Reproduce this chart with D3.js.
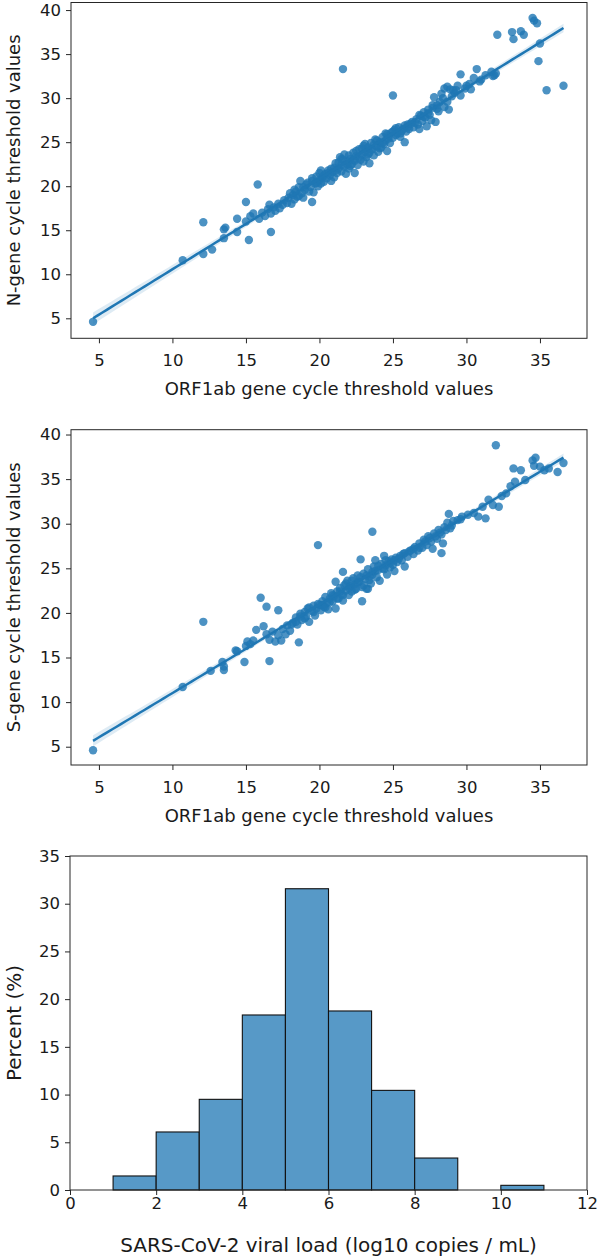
<!DOCTYPE html>
<html>
<head>
<meta charset="utf-8">
<script src="https://cdn.jsdelivr.net/npm/d3@7"></script>
<style>
  html, body { margin: 0; padding: 0; background: #fff; }
  svg { display: block; }
  text { font-family: "DejaVu Sans", sans-serif; fill: #1a1a1a; }
</style>
</head>
<body>
<svg id="chart" width="597" height="1260"></svg>
<script>
// ---------- DATA ----------
// Panel 1: ORF1ab Ct (x) vs N-gene Ct (y)
const nOrf = [4.6,10.7,12.1,12.1,12.7,13.5,13.5,13.6,14.4,14.4,15.0,15.2,15.0,15.3,15.5,15.8,15.9,16.1,16.3,16.5,16.6,16.7,16.7,16.9,17.0,17.2,17.3,17.5,17.6,17.8,17.9,18.1,18.2,18.3,18.4,18.5,18.6,18.7,18.8,18.9,19.0,19.1,19.3,19.4,19.5,19.5,19.6,19.7,19.8,19.9,20.0,20.0,20.1,20.2,20.3,20.4,20.5,20.6,20.7,20.8,20.9,21.0,21.0,21.1,21.2,21.3,21.4,21.5,21.5,21.6,21.6,21.7,21.8,21.9,22.0,22.0,22.1,22.2,22.3,22.4,22.4,22.5,22.6,22.7,22.8,22.9,23.0,23.0,23.1,23.2,23.3,23.4,23.4,23.5,23.6,23.7,23.8,23.9,24.0,24.1,24.2,24.3,24.4,24.5,24.6,24.6,24.7,24.8,24.9,25.0,25.0,25.1,25.2,25.3,25.4,25.5,25.6,25.8,25.8,25.9,26.0,26.1,26.3,26.4,26.6,26.7,26.8,26.9,27.0,27.1,27.2,27.3,27.4,27.5,27.6,27.7,27.8,27.9,28.0,28.1,28.2,28.3,28.5,28.5,28.7,28.8,28.9,29.0,29.1,29.2,29.4,29.6,29.6,29.9,30.2,30.5,30.7,31.0,31.3,31.7,31.8,31.9,32.0,32.1,33.1,33.2,33.7,33.9,34.5,34.6,34.8,34.9,35.0,35.45,36.6,
  18.0,18.3,18.6,18.9,19.2,19.5,19.8,20.1,20.3,20.6,20.8,21.1,21.3,21.5,21.7,21.9,22.1,22.3,22.5,22.7,22.9,23.1,23.3,23.5,23.7,23.9,24.1,24.3,24.5,24.7,25.0,25.2,25.5,25.7,26.0,26.2,26.5,26.8,27.1,27.4,27.7,28.0,28.4,28.7,29.3,30.0,30.3,30.9];
const nGene = [4.6,11.6,15.9,12.3,12.8,15.1,14.1,15.3,16.3,14.8,18.2,13.9,16.0,16.6,16.9,20.2,16.3,17.0,16.6,17.4,17.9,14.8,16.9,17.6,17.2,18.0,17.5,17.9,18.4,18.1,18.7,18.0,19.0,18.5,19.4,18.8,19.9,20.6,19.2,18.7,19.6,20.2,19.4,19.9,18.2,20.6,19.3,20.3,21.1,20.0,20.7,21.5,20.3,21.0,20.5,21.4,20.9,21.8,21.2,20.6,21.6,22.1,21.0,22.6,21.5,22.0,23.3,21.7,22.4,33.3,23.0,22.2,21.4,22.8,23.5,22.0,23.1,22.5,23.8,21.5,22.9,23.4,22.4,24.2,23.0,23.6,24.6,22.8,23.9,23.3,24.4,22.6,23.8,24.9,24.2,23.5,25.3,24.5,23.9,25.0,24.4,25.6,24.8,25.2,24.0,25.9,25.4,24.9,26.1,30.3,25.5,26.4,25.8,26.0,26.7,25.6,26.3,25.0,26.9,26.2,27.0,26.5,27.3,26.7,27.6,27.0,26.5,28.0,27.4,28.4,27.8,26.8,28.7,28.1,27.5,28.9,30.1,27.3,29.2,28.5,29.6,30.5,29.0,31.1,31.3,28.7,31.0,30.2,30.9,30.6,31.4,32.7,30.3,31.1,31.6,32.3,33.3,32.1,32.6,33.0,32.5,32.6,32.8,37.2,37.5,36.7,37.6,37.2,39.1,38.8,38.5,34.2,36.2,30.9,31.4,
  19.2,19.6,18.9,19.9,20.4,20.9,20.4,21.8,21.2,21.5,22.0,21.8,22.7,23.1,23.6,22.5,22.3,23.0,24.0,23.3,24.3,24.8,23.6,24.2,24.7,25.2,24.3,24.9,26.0,25.7,26.2,26.6,26.0,26.5,26.7,27.1,27.2,28.1,27.9,28.3,29.2,28.8,30.0,29.6,30.9,31.4,31.0,31.9];

// Panel 2: ORF1ab Ct (x) vs S-gene Ct (y)
const sOrf = [4.6,10.7,12.1,12.6,13.4,13.5,13.5,14.3,14.4,14.9,15.0,15.1,15.3,15.5,15.7,16.0,16.2,16.4,16.4,16.6,16.6,16.8,17.0,17.2,17.2,17.4,17.5,17.7,17.8,18.0,18.2,18.4,18.5,18.6,18.7,18.8,19.0,19.1,19.2,19.3,19.5,19.6,19.7,19.8,19.9,20.0,20.1,20.2,20.3,20.4,20.5,20.6,20.7,20.8,20.9,21.0,21.1,21.1,21.2,21.3,21.4,21.5,21.6,21.6,21.7,21.8,21.9,22.0,22.1,22.2,22.3,22.4,22.5,22.6,22.7,22.8,22.9,22.9,23.0,23.1,23.2,23.3,23.3,23.4,23.5,23.6,23.6,23.7,23.8,23.9,24.0,24.1,24.2,24.4,24.4,24.5,24.6,24.7,24.8,24.9,25.0,25.1,25.2,25.3,25.5,25.6,25.8,25.8,26.0,26.2,26.4,26.5,26.7,26.8,27.0,27.1,27.3,27.4,27.6,27.7,27.8,28.0,28.1,28.3,28.3,28.4,28.5,28.7,28.8,28.9,29.1,29.4,29.7,30.1,30.5,30.8,31.1,31.3,31.5,31.8,32.0,32.2,32.4,32.7,33.0,33.3,33.2,33.7,34.0,34.5,34.7,34.6,35.0,35.3,35.6,36.2,36.6,
  18.1,18.4,18.7,19.0,19.3,19.6,19.9,20.2,20.4,20.7,20.9,21.2,21.4,21.6,21.8,22.0,22.2,22.4,22.6,22.8,23.0,23.2,23.4,23.6,23.8,24.0,24.3,24.5,24.8,25.1,25.4,25.7,26.1,26.4,26.8,27.2,27.5,27.9,28.2,28.6,29.0,29.6];
const sGene = [4.6,11.7,19.0,13.5,14.5,13.6,14.0,15.8,15.7,14.5,16.3,16.8,16.5,16.9,18.1,21.7,18.5,20.7,17.6,14.6,17.0,17.9,16.8,20.3,17.5,16.9,18.2,17.6,18.6,18.0,18.9,19.5,18.7,16.7,19.9,19.2,20.1,19.6,20.5,19.0,20.2,20.8,19.7,20.5,27.6,20.9,20.3,21.3,20.7,21.8,21.1,20.4,21.6,22.2,21.3,21.9,23.5,20.5,22.4,21.6,22.8,22.1,24.6,21.4,23.1,22.5,23.6,22.0,23.0,22.4,23.9,23.2,22.7,24.2,23.5,26.0,21.3,22.9,24.4,23.8,22.7,22.7,24.9,24.1,23.3,29.1,24.6,25.2,25.9,24.0,24.8,23.6,25.5,26.4,24.9,25.3,24.3,25.8,25.1,26.0,25.4,24.7,26.2,25.7,26.4,25.9,25.2,26.7,26.3,27.0,26.6,27.4,27.0,27.8,27.3,28.2,27.6,28.6,28.0,27.2,28.9,28.3,29.3,26.7,28.8,27.8,29.6,30.1,31.1,29.5,30.3,30.4,30.8,31.0,31.2,30.8,31.9,30.6,32.7,32.1,38.8,31.9,33.1,33.4,34.2,34.7,36.2,36.0,34.9,37.1,37.4,36.5,36.4,36.0,36.2,35.8,36.8,
  18.7,19.0,19.6,19.4,20.6,20.1,21.0,20.9,20.6,21.2,22.0,21.6,22.4,22.0,23.3,22.8,23.6,22.6,23.4,24.0,23.1,24.2,23.7,24.3,24.7,25.3,25.0,25.9,25.6,25.9,26.1,26.6,26.9,27.2,27.3,28.0,28.4,28.6,29.0,29.3,29.8,30.5];

const xTicks = [5, 10, 15, 20, 25, 30, 35];
const yTicks = [5, 10, 15, 20, 25, 30, 35, 40];

// Panel 3: histogram of viral load (percent per bin)
const binStarts = [1, 2, 3, 4, 5, 6, 7, 8, 9, 10];
const binPercent = [1.47, 6.08, 9.5, 18.34, 31.57, 18.76, 10.44, 3.35, 0, 0.49];
const histXTicks = [0, 2, 4, 6, 8, 10, 12];
const histYTicks = [0, 5, 10, 15, 20, 25, 30, 35];

const xLabel = "ORF1ab gene cycle threshold values";
const nLabel = "N-gene cycle threshold values";
const sLabel = "S-gene cycle threshold values";
const histXLabel = "SARS-CoV-2 viral load (log10 copies / mL)";
const histYLabel = "Percent (%)";

// ---------- DRAW ----------
const svg = d3.select("#chart");
const BLUE = "#1f77b4";
const AX = "#262626";
const TICKFS = 16.5;
const LABFS = 18;
const HLABFS = 20;

function frame(g, L, R, T, B) {
  g.append("rect").attr("x", L).attr("y", T).attr("width", R - L).attr("height", B - T)
    .attr("fill", "none").attr("stroke", AX).attr("stroke-width", 1);
}
function styleAxis(sel) {
  sel.select(".domain").remove();
  sel.selectAll(".tick line").attr("stroke", AX).attr("stroke-width", 1);
  sel.selectAll(".tick text").style("font-size", TICKFS + "px").attr("fill", AX);
}

function scatterPanel(xs, ys, box, xDom, yDom, yLab) {
  const {L, R, T, B} = box;
  const x = d3.scaleLinear().domain(xDom).range([L, R]);
  const y = d3.scaleLinear().domain(yDom).range([B, T]);
  const g = svg.append("g");

  // regression (least squares) with 95% confidence band
  const n = xs.length;
  const mx = d3.mean(xs), my = d3.mean(ys);
  let sxx = 0, sxy = 0;
  for (let i = 0; i < n; i++) { sxx += (xs[i]-mx)**2; sxy += (xs[i]-mx)*(ys[i]-my); }
  const b = sxy / sxx, a = my - b * mx;
  let sse = 0;
  for (let i = 0; i < n; i++) sse += (ys[i] - (a + b*xs[i]))**2;
  const s = Math.sqrt(sse / (n - 2));
  const xmin = d3.min(xs), xmax = d3.max(xs);
  const grid = d3.range(0, 101).map(k => xmin + (xmax - xmin) * k / 100);
  const band = grid.map(v => {
    const se = s * Math.sqrt(1/n + (v-mx)**2 / sxx);
    return {v, lo: a + b*v - 1.97*se, hi: a + b*v + 1.97*se};
  });

  const cp = "clip" + Math.round(T);
  g.append("clipPath").attr("id", cp).append("rect")
    .attr("x", L).attr("y", T).attr("width", R-L).attr("height", B-T);
  const inner = g.append("g").attr("clip-path", `url(#${cp})`);

  inner.selectAll("circle").data(xs.map((v, i) => [v, ys[i]])).join("circle")
    .attr("cx", d => x(d[0])).attr("cy", d => y(d[1])).attr("r", 4.2)
    .attr("fill", BLUE).attr("fill-opacity", 0.8);

  inner.append("path").datum(band)
    .attr("d", d3.area().x(d => x(d.v)).y0(d => y(d.lo)).y1(d => y(d.hi)))
    .attr("fill", BLUE).attr("fill-opacity", 0.15);
  inner.append("path").datum(grid)
    .attr("d", d3.line().x(v => x(v)).y(v => y(a + b*v)))
    .attr("fill", "none").attr("stroke", BLUE).attr("stroke-width", 2.5);

  const gx = g.append("g").attr("transform", `translate(0,${B})`)
    .call(d3.axisBottom(x).tickValues(xTicks).tickSize(5).tickPadding(11).tickFormat(d3.format("d")));
  styleAxis(gx);
  const gy = g.append("g").attr("transform", `translate(${L},0)`)
    .call(d3.axisLeft(y).tickValues(yTicks).tickSize(5).tickPadding(5).tickFormat(d3.format("d")));
  styleAxis(gy);
  frame(g, L, R, T, B);

  g.append("text").attr("x", (L+R)/2).attr("y", B + 56.5).attr("text-anchor", "middle")
    .style("font-size", LABFS + "px").attr("fill", AX).text(xLabel);
  g.append("text").attr("transform", `translate(20,${(T+B)/2}) rotate(-90)`)
    .attr("text-anchor", "middle").style("font-size", LABFS + "px").attr("fill", AX).text(yLab);
}

scatterPanel(nOrf, nGene, {L: 71, R: 587, T: 2.5, B: 338.3}, [3.1, 38.2], [2.73, 40.86], nLabel);
scatterPanel(sOrf, sGene, {L: 71, R: 587, T: 429.7, B: 765}, [3.1, 38.2], [2.95, 40.54], sLabel);

// histogram
(function () {
  const L = 70, R = 587, T = 856, B = 1190;
  const x = d3.scaleLinear().domain([0, 12]).range([L, R]);
  const y = d3.scaleLinear().domain([0, 35]).range([B, T]);
  const g = svg.append("g");
  g.selectAll("rect.bar").data(binStarts.map((s, i) => ({s, p: binPercent[i]})).filter(d => d.p > 0))
    .join("rect").attr("class", "bar")
    .attr("x", d => x(d.s)).attr("width", d => x(d.s + 1) - x(d.s))
    .attr("y", d => y(d.p)).attr("height", d => y(0) - y(d.p))
    .attr("fill", "#5799c7").attr("stroke", "#111").attr("stroke-width", 1.1);
  const gx = g.append("g").attr("transform", `translate(0,${B})`)
    .call(d3.axisBottom(x).tickValues(histXTicks).tickSize(5).tickPadding(2.5).tickFormat(d3.format("d")));
  styleAxis(gx);
  const gy = g.append("g").attr("transform", `translate(${L},0)`)
    .call(d3.axisLeft(y).tickValues(histYTicks).tickSize(5).tickPadding(5).tickFormat(d3.format("d")));
  styleAxis(gy);
  frame(g, L, R, T, B);
  g.append("text").attr("x", (L+R)/2).attr("y", B + 62).attr("text-anchor", "middle")
    .style("font-size", HLABFS + "px").attr("fill", AX).text(histXLabel);
  g.append("text").attr("transform", `translate(21,${(T+B)/2}) rotate(-90)`)
    .attr("text-anchor", "middle").style("font-size", HLABFS + "px").attr("fill", AX).text(histYLabel);
})();
</script>
</body>
</html>
